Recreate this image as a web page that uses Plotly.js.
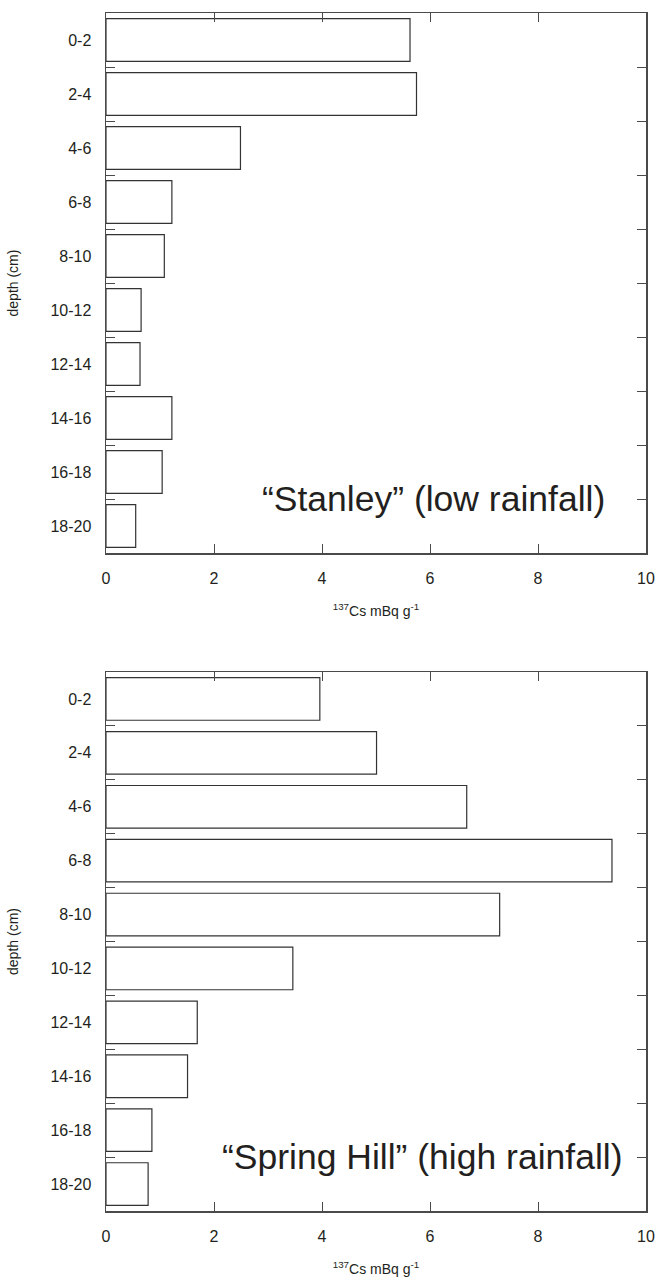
<!DOCTYPE html>
<html>
<head>
<meta charset="utf-8">
<script src="https://cdn.plot.ly/plotly-3.0.1.min.js"></script>
<style>html,body{margin:0;padding:0;background:#fff;}#chart{width:659px;height:1288px;}</style>
</head>
<body>
<div id="chart"></div>
<script>
// depth intervals (cm)
const depths = ["0-2","2-4","4-6","6-8","8-10","10-12","12-14","14-16","16-18","18-20"];
// 137Cs activity (mBq g-1)
const stanley = [5.63, 5.75, 2.49, 1.22, 1.08, 0.65, 0.63, 1.22, 1.04, 0.55];
const springHill = [3.96, 5.01, 6.68, 9.37, 7.29, 3.46, 1.69, 1.51, 0.85, 0.78];
const xTicks = [0, 2, 4, 6, 8, 10];
const siteLabels = ["\u201cStanley\u201d (low rainfall)", "\u201cSpring Hill\u201d (high rainfall)"];
const xTitle = "<sup>137</sup>Cs mBq g<sup>-1</sup>";
const yTitle = "depth (cm)";

const FONT = "Liberation Sans, Arial, Helvetica, sans-serif";
const TXT = "#231f20";
const AX = "#4a4a4a";

function barTrace(vals, xa, ya) {
  return {
    type: "bar", orientation: "h",
    x: vals, y: depths, xaxis: xa, yaxis: ya,
    marker: {color: "#ffffff", line: {color: "#333333", width: 1.2}},
    hoverinfo: "x+y", showlegend: false
  };
}

function xAxis(anchor) {
  return {
    anchor: anchor, range: [0, 10], tickvals: xTicks, ticktext: xTicks.map(String),
    ticks: "inside", ticklen: 9, tickwidth: 1, tickcolor: AX,
    showline: true, linecolor: AX, linewidth: 1.5, mirror: "ticks",
    showgrid: false, zeroline: false,
    tickfont: {family: FONT, size: 16, color: TXT},
    ticklabelstandoff: 10,
    title: {text: xTitle, font: {family: FONT, size: 14, color: TXT}, standoff: 20}
  };
}
function yAxis(anchor, domain) {
  return {
    anchor: anchor, domain: domain, type: "category",
    categoryorder: "array", categoryarray: depths, autorange: "reversed",
    tickson: "boundaries", ticks: "inside", ticklen: 9, tickwidth: 1, tickcolor: AX,
    showline: true, linecolor: AX, linewidth: 1.5, mirror: "ticks",
    showgrid: false, zeroline: false,
    tickfont: {family: FONT, size: 16, color: TXT},
    ticklabelstandoff: 10,
    title: {text: yTitle, font: {family: FONT, size: 14, color: TXT}, standoff: 28}
  };
}

const data = [barTrace(stanley, "x", "y"), barTrace(springHill, "x2", "y2")];

const layout = {
  width: 659, height: 1288,
  margin: {l: 106, r: 13, t: 13, b: 77, pad: 0},
  paper_bgcolor: "#ffffff", plot_bgcolor: "#ffffff",
  bargap: 0.21,
  xaxis: xAxis("y"),
  yaxis: yAxis("x", [0.5492, 1]),
  xaxis2: xAxis("y2"),
  yaxis2: yAxis("x2", [0, 0.4499]),
  annotations: [
    {text: siteLabels[0], xref: "x", yref: "y", x: 9.28, y: 8.5, xanchor: "right", yanchor: "middle",
     showarrow: false, font: {family: FONT, size: 35.5, color: TXT}},
    {text: siteLabels[1], xref: "x2", yref: "y2", x: 9.6, y: 8.5, xanchor: "right", yanchor: "middle",
     showarrow: false, font: {family: FONT, size: 35.5, color: TXT}}
  ]
};

Plotly.newPlot("chart", data, layout, {displayModeBar: false, staticPlot: true});
</script>
</body>
</html>
